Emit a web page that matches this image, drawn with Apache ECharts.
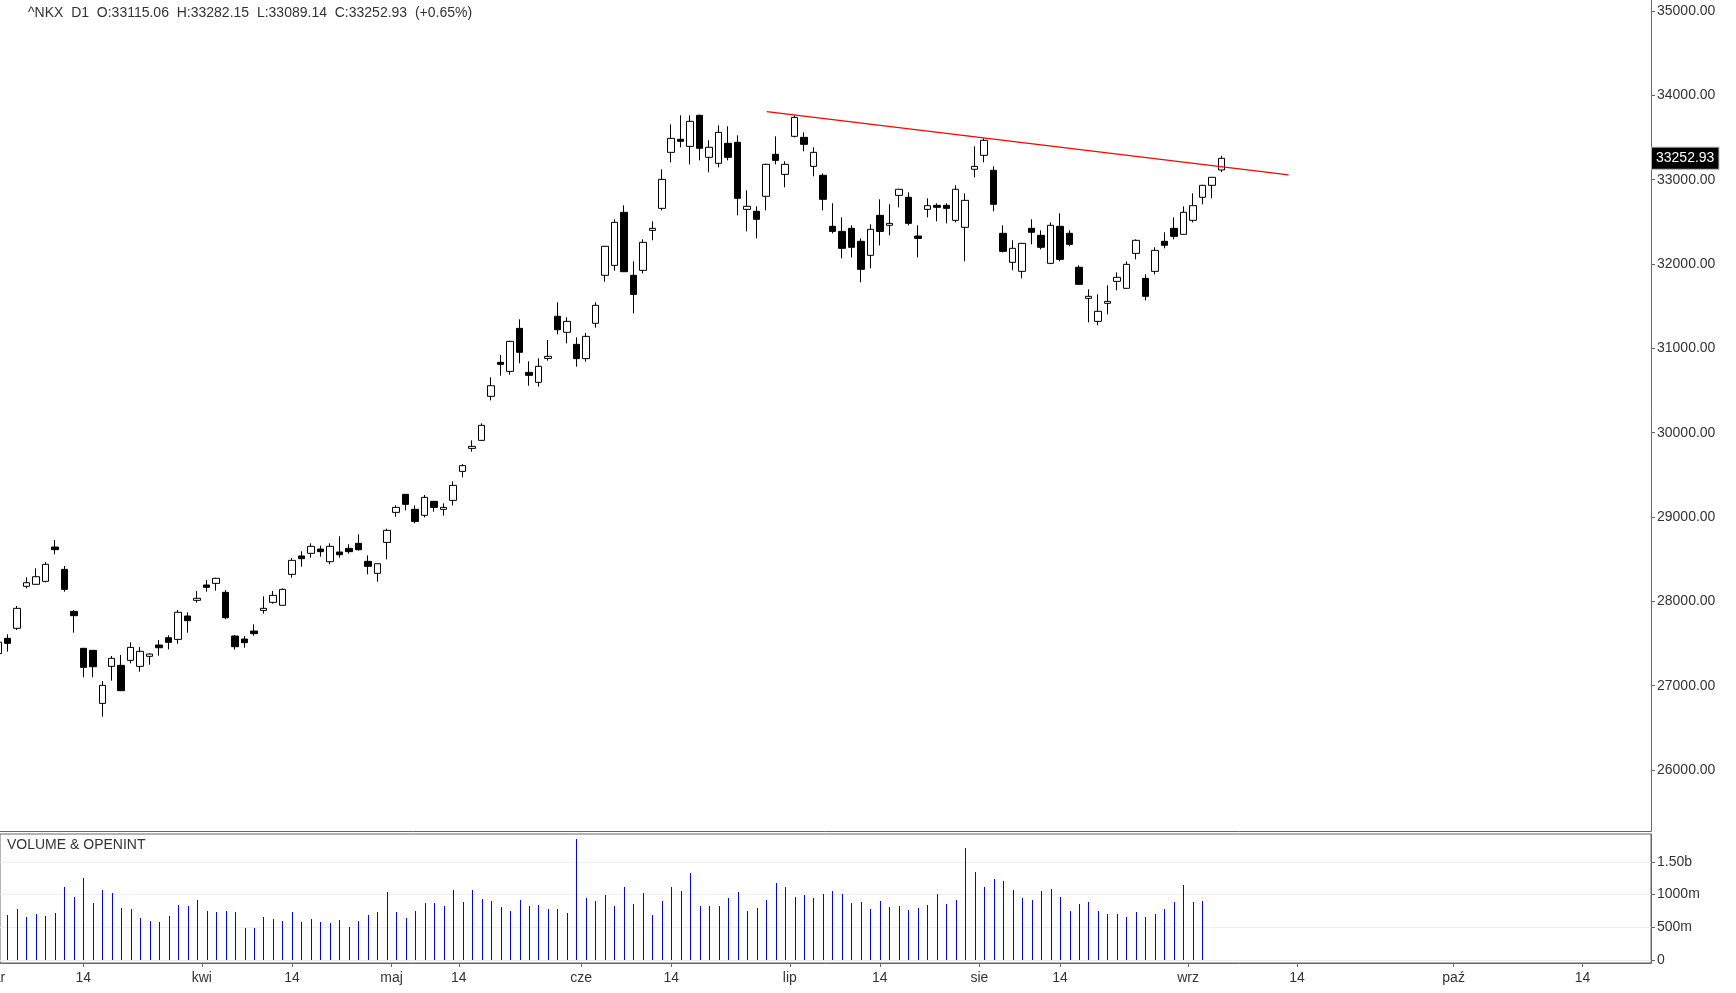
<!DOCTYPE html>
<html><head><meta charset="utf-8">
<script src="https://cdn.jsdelivr.net/npm/echarts@6/dist/echarts.min.js"></script>
<style>html,body{margin:0;padding:0;background:#fff;overflow:hidden}#c{width:1736px;height:993px}</style>
</head><body><div id="c"></div>
<script>
// ---- data (one entry per trading day, 2023-03-01 .. 2023-09-06) ----
const openP = [27380,27561,27680,28178,28202,28237,28644,28379,27881,27443,27419,26790,27229,27241,27300,27229,27348,27482,27569,27549,
27826,28012,28194,28213,28107,27589,27553,27648,27893,27988,27953,28320,28538,28569,28620,28470,28585,28628,28688,28474,
28332,28699,29055,29269,29091,29020,29186,29091,29197,29541,29814,29909,30431,30834,30727,31237,30715,30597,30881,31380,
31190,31047,30878,31297,31866,31984,32613,31866,31925,32399,32660,33324,33479,33395,33763,33265,33194,33431,33443,32648,
32625,32803,33301,33063,33514,33502,33158,33052,32447,32387,32423,32269,32103,32577,32459,32814,32791,32332,32648,32696,
32696,32518,32435,33123,33289,33111,32364,32020,31913,32423,32340,32008,32447,32364,31961,31593,31320,31534,31794,31712,
32126,31830,31913,32269,32423,32352,32518,32791,32933,33115.06];
const highP = [27530,27609,27945,28285,28391,28466,28727,28419,27897,27445,27422,27055,27352,27364,27514,27458,27383,27541,27597,27897,
27870,28122,28253,28280,28134,27601,27589,27727,28059,28122,28154,28514,28593,28688,28660,28688,28771,28676,28794,28545,
28450,28861,29138,29272,29138,29261,29190,29162,29423,29628,29909,30111,30656,30921,31090,31344,30846,30881,31099,31546,
31368,31130,31182,31546,32215,32530,32696,32032,32293,32506,33123,33656,33763,33763,33770,33467,33645,33633,33526,32874,
32684,33190,33514,33218,33763,33561,33384,33075,32720,32554,32459,32304,32470,32767,32708,32890,32850,32459,32779,32720,
32720,32933,32838,33395,33490,33158,32459,32281,32250,32530,32399,32494,32601,32399,31984,31700,31640,31747,31901,32032,
32293,31878,32198,32376,32554,32684,32838,32940,33032,33282.15];
const lowP = [27364,27403,27660,28154,28195,28225,28557,28115,27628,27099,27099,26632,27059,26935,27265,27166,27249,27356,27431,27498,
27628,27984,28115,28126,27787,27427,27451,27593,27854,27972,27949,28281,28411,28518,28529,28439,28518,28565,28601,28320,
28233,28498,29004,29079,28925,28995,29063,29016,29138,29470,29775,29905,30383,30676,30688,30822,30557,30546,30854,31166,
31059,30783,30842,31245,31791,31921,31905,31415,31889,32281,32637,33206,33384,33182,33229,33087,33146,33229,32577,32387,
32304,32637,33182,32909,33502,33336,33040,32637,32364,32067,32079,31783,31949,32221,32340,32672,32459,32079,32554,32506,
32482,32494,32032,33028,33206,32625,32138,31925,31830,32233,32174,31998,32032,32210,31755,31308,31273,31403,31688,31708,
32055,31569,31878,32186,32293,32348,32494,32708,32779,33089.14];
const closeP = [27516,27502,27917,28221,28292,28439,28613,28142,27830,27217,27225,27004,27324,26941,27454,27407,27375,27450,27514,27870,
27771,28036,28166,28273,27806,27462,27510,27617,27917,28071,28142,28486,28506,28652,28589,28652,28553,28589,28612,28415,
28446,28842,29114,29150,28948,29233,29114,29114,29375,29609,29838,30087,30557,30810,31083,30953,30680,30787,30905,31221,
31320,30878,31142,31510,32210,32494,31909,31640,32257,32423,33004,33490,33455,33692,33372,33384,33561,33265,32779,32684,
32530,33182,33229,33182,33739,33419,33324,32767,32387,32186,32198,31937,32411,32387,32482,32886,32482,32304,32692,32672,
32660,32886,32755,33158,33467,32708,32150,32186,32245,32376,32198,32459,32055,32233,31759,31617,31439,31557,31842,31996,
32281,31617,32162,32222,32328,32613,32692,32933,33028,33252.93];
// volume in millions (last two sessions have no volume yet)
const volumeM = [700,683,775,652,698,668,713,1111,958,1249,866,1065,1019,790,775,637,591,576,668,836,
821,912,744,729,744,729,484,484,652,622,591,729,576,622,576,561,606,499,591,683,
729,1035,729,637,744,866,866,821,1065,882,1065,928,897,805,744,912,821,836,775,775,
713,1845,943,897,989,821,1111,851,1019,683,897,1111,1050,1325,821,821,821,943,1035,744,
790,912,1172,1111,958,989,943,1004,1050,1004,866,882,775,897,805,821,759,790,836,1004,
851,912,1707,1340,1111,1233,1203,1065,943,912,1050,1080,958,744,851,882,744,698,698,652,
729,652,698,775,882,1142,882,897,null,null];
// red resistance line: [bar position, price]
const trendLine = [[81.07, 33806], [136.1, 33057]];
// x axis ticks (bar positions) and their labels
const xTickPos  = [-0.5, 9, 21.5, 31, 41.5, 48.6, 61.5, 71, 83.5, 93, 103.5, 112, 125.5, 137, 153.5, 167.1];
const xTickText = ['mar','14','kwi','14','maj','14','cze','14','lip','14','sie','14','wrz','14','paź','14'];
const priceTicks = [26000,27000,28000,29000,30000,31000,32000,33000,34000,35000];
const volTicks = [0, 500e6, 1000e6, 1500e6];
const volTickText = ['0','500m','1000m','1.50b'];
const header = '^NKX  D1  O:33115.06  H:33282.15  L:33089.14  C:33252.93  (+0.65%)';

// ---- chart ----
const FONT = '"Liberation Sans", Arial, sans-serif';
const lastClose = closeP[closeP.length - 1];
const candleData = openP.map((o, i) => [i, o, closeP[i], lowP[i], highP[i]]);
const volData = volumeM.map((v, i) => [i, v == null ? null : v * 1e6]);
const X_MIN = 0.216, X_MAX = 174.317;
const AX = '#666';
const labelOf = v => { let k = 0, d = 1e9; xTickPos.forEach((p, j) => { if (Math.abs(p - v) < d) { d = Math.abs(p - v); k = j; } }); return xTickText[k]; };
const visTicks = xTickPos.filter(p => p >= X_MIN && p <= X_MAX);

const chart = echarts.init(document.getElementById('c'), null, {renderer: 'canvas'});
chart.setOption({
  animation: false,
  backgroundColor: '#fff',
  title: [
    {text: header, left: 23, top: 1, textStyle: {fontSize: 14, fontWeight: 'normal', color: '#333', fontFamily: FONT}},
    {text: 'VOLUME & OPENINT', left: 2, top: 833, textStyle: {fontSize: 14, fontWeight: 'normal', color: '#333', fontFamily: FONT}}
  ],
  grid: [
    {left: 0, top: 0, width: 1651, height: 831, show: false},
    {left: 0, top: 834, width: 1651, height: 129, show: true, borderColor: AX, borderWidth: 1, backgroundColor: 'transparent'}
  ],
  xAxis: [
    {type: 'value', gridIndex: 0, min: X_MIN, max: X_MAX,
     axisLine: {show: true, onZero: false, lineStyle: {color: AX}},
     axisTick: {show: false}, axisLabel: {show: false}, splitLine: {show: false}},
    {type: 'value', gridIndex: 1, min: X_MIN, max: X_MAX,
     axisLine: {show: true, onZero: false, lineStyle: {color: AX}},
     axisTick: {show: true, customValues: visTicks, length: 4, lineStyle: {color: AX}},
     axisLabel: {show: true, customValues: visTicks, margin: 8, fontSize: 14, color: '#333', fontFamily: FONT, formatter: labelOf},
     splitLine: {show: false}}
  ],
  yAxis: [
    {type: 'value', gridIndex: 0, position: 'right', min: 25276.7, max: 35130.7,
     axisLine: {show: true, onZero: false, lineStyle: {color: AX}},
     axisTick: {show: true, customValues: priceTicks, length: 4, lineStyle: {color: AX}},
     axisLabel: {show: true, customValues: priceTicks, margin: 6, fontSize: 14, color: '#333', fontFamily: FONT,
       formatter: v => v.toFixed(2)},
     splitLine: {show: false}},
    {type: 'value', gridIndex: 1, position: 'right', min: -45.9e6, max: 1926.6e6,
     axisLine: {show: true, onZero: false, lineStyle: {color: AX}},
     axisTick: {show: true, customValues: volTicks, length: 4, lineStyle: {color: AX}},
     axisLabel: {show: true, customValues: volTicks, margin: 6, fontSize: 14, color: '#333', fontFamily: FONT,
       formatter: v => { const k = volTicks.findIndex(t => Math.abs(t - v) < 1e6); return k >= 0 ? volTickText[k] : ''; }},
     splitLine: {show: true, lineStyle: {color: '#eeeeee', width: 1}}}
  ],
  series: [
    {type: 'candlestick', xAxisIndex: 0, yAxisIndex: 0, data: candleData,
     encode: {x: 0, y: [1, 2, 3, 4]}, barWidth: 7,
     itemStyle: {color: '#ffffff', color0: '#000000', borderColor: '#000000', borderColor0: '#000000', borderWidth: 1},
     markLine: {silent: true, symbol: ['none', 'none'], animation: false,
       lineStyle: {width: 0, color: 'rgba(0,0,0,0)'},
       label: {show: true, position: 'end', distance: 1, formatter: lastClose.toFixed(2),
         color: '#fff', backgroundColor: '#000', padding: [4, 4, 3, 4], fontSize: 14, fontFamily: FONT,
         borderColor: '#aaa', borderWidth: 1},
       data: [{yAxis: lastClose}]}},
    {type: 'line', xAxisIndex: 0, yAxisIndex: 0, data: trendLine, symbol: 'none', silent: true,
     lineStyle: {color: '#ff0000', width: 1.2}},
    {type: 'custom', xAxisIndex: 1, yAxisIndex: 1, data: volData, encode: {x: 0, y: 1}, silent: true,
     renderItem: (params, api) => {
       const v = api.value(1);
       if (v == null || isNaN(v)) return null;
       const top = api.coord([api.value(0), v]);
       const base = api.coord([api.value(0), 0]);
       const x = Math.round(top[0]) + 0.5;
       return {type: 'line', shape: {x1: x, y1: Math.round(base[1]), x2: x, y2: Math.round(top[1])},
               style: {stroke: '#0000ff', lineWidth: 1}};
     }}
  ]
});
// month label whose tick lies just left of the visible range (only its tail shows)
const hidden = xTickPos.map((p, j) => [p, j]).filter(([p]) => p < X_MIN);
const gx = [];
hidden.forEach(([p, j]) => {
  const px = chart.convertToPixel({xAxisIndex: 1}, p);
  const py = chart.convertToPixel({yAxisIndex: 1}, -45.9e6);
  gx.push({type: 'text', x: px, y: py + 8, silent: true,
    style: {text: xTickText[j], fill: '#333', font: '14px ' + FONT, align: 'center', verticalAlign: 'top'}});
});
chart.setOption({graphic: gx});
</script>
</body></html>
